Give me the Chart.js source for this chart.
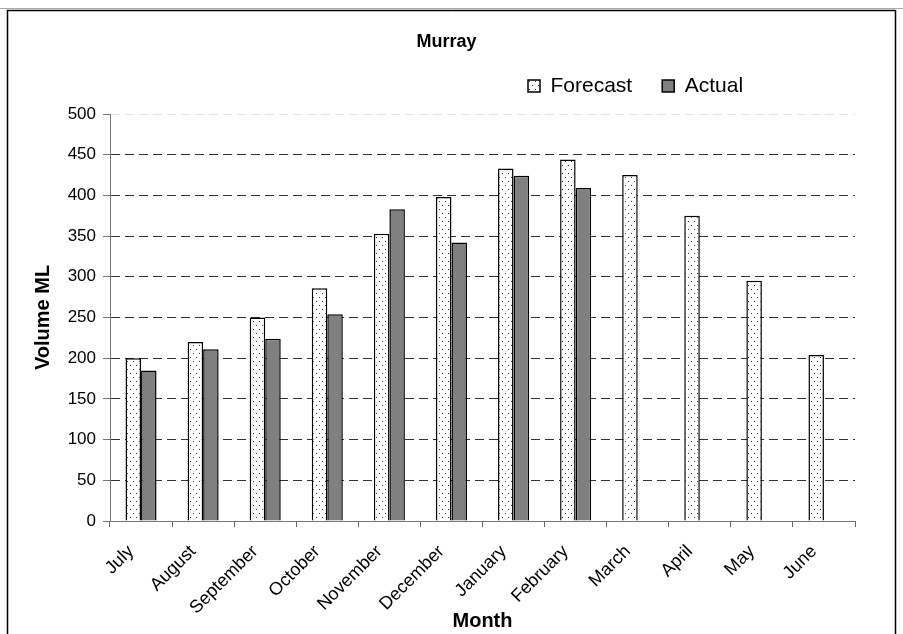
<!DOCTYPE html>
<html>
<head>
<meta charset="utf-8">
<script src="https://cdn.jsdelivr.net/npm/chart.js@4"></script>
<style>
  html, body { margin: 0; padding: 0; background: #fff; }
  #wrap { width: 903px; height: 634px; position: relative; }
</style>
</head>
<body>
<div id="wrap"><canvas id="chart"></canvas></div>
<script>
const months = ['July', 'August', 'September', 'October', 'November', 'December',
                'January', 'February', 'March', 'April', 'May', 'June'];
const forecast = [200, 220, 250, 286, 353, 398, 433, 444, 425, 375, 295, 204];
const actual = [185, 211, 224, 254, 383, 342, 424, 409, null, null, null, null];
const yTicks = [0, 50, 100, 150, 200, 250, 300, 350, 400, 450, 500];

const FONT = "'Liberation Sans', Arial, sans-serif";
const LEGEND_SIZE = 21;
const LEGEND_PAD = 30;

// white with small dots, like the Excel fill
function dotPattern() {
    const c = document.createElement('canvas');
    c.width = 6;
    c.height = 8;
    const g = c.getContext('2d');
    g.fillStyle = '#fff';
    g.fillRect(0, 0, 6, 8);
    g.fillStyle = '#333';
    g.fillRect(1, 1, 1, 1);
    g.fillRect(4, 5, 1, 1);
    return g.createPattern(c, 'repeat');
}

// outer frame of the chart object
const frame = {
    id: 'frame',
    afterDraw(chart) {
        const ctx = chart.ctx;
        ctx.save();
        ctx.strokeStyle = '#aaa';
        ctx.lineWidth = 1;
        ctx.beginPath();
        ctx.moveTo(0, 8.5);
        ctx.lineTo(903, 8.5);
        ctx.stroke();
        ctx.strokeStyle = '#000';
        ctx.lineWidth = 1.5;
        ctx.beginPath();
        ctx.moveTo(7.5, 640);
        ctx.lineTo(7.5, 10.5);
        ctx.lineTo(895.5, 10.5);
        ctx.lineTo(895.5, 640);
        ctx.stroke();
        ctx.restore();
    }
};

// title and legend are not centred over the plot in the original
const placeBlocks = {
    id: 'placeBlocks',
    afterLayout(chart) {
        const t = chart.titleBlock;
        t.left += 19;
        t.right += 19;

        const l = chart.legend;
        const dx = 528 - LEGEND_PAD - l.left;
        const dy = 86 - (l.top + LEGEND_PAD + LEGEND_SIZE / 2);
        l.left += dx;
        l.right += dx;
        l.top += dy;
        l.bottom += dy;
    }
};

const ctx = document.getElementById('chart').getContext('2d');

new Chart(ctx, {
    type: 'bar',
    data: {
        labels: months,
        datasets: [{
            label: 'Forecast',
            data: forecast,
            backgroundColor: dotPattern(),
            borderColor: '#000',
            borderWidth: 1.5
        }, {
            label: 'Actual',
            data: actual,
            backgroundColor: '#808080',
            borderColor: '#000',
            borderWidth: 1.5
        }]
    },
    options: {
        responsive: true,
        maintainAspectRatio: false,
        animation: false,
        layout: { padding: { top: 0, right: 48, bottom: 0, left: 0 } },
        datasets: { bar: { categoryPercentage: 0.5, barPercentage: 1 } },
        plugins: {
            title: {
                display: true,
                text: 'Murray',
                color: '#000',
                font: { family: FONT, size: 18, weight: 'bold' },
                padding: { top: 31.2, bottom: 0.2 }
            },
            legend: {
                display: true,
                align: 'start',
                labels: {
                    color: '#000',
                    font: { family: FONT, size: LEGEND_SIZE },
                    boxWidth: 12,
                    boxHeight: 12,
                    padding: LEGEND_PAD
                }
            },
            tooltip: { enabled: false }
        },
        scales: {
            x: {
                grid: {
                    display: true,
                    drawOnChartArea: false,
                    offset: true,
                    tickLength: 6,
                    color: '#666'
                },
                border: { display: true, color: '#777', width: 1 },
                ticks: {
                    color: '#000',
                    font: { family: FONT, size: 18 },
                    minRotation: 45,
                    maxRotation: 45,
                    autoSkip: false,
                    padding: 14,
                    labelOffset: -10
                },
                title: {
                    display: true,
                    text: 'Month',
                    color: '#000',
                    font: { family: FONT, size: 20, weight: 'bold' },
                    padding: { top: 0, bottom: 1 }
                },
                afterFit(scale) { scale.height = 113; }
            },
            y: {
                min: 0,
                max: 500,
                grid: {
                    color: c => c.tick.value === 500 ? '#e4e4e4' : (c.tick.value === 0 ? 'rgba(0,0,0,0)' : '#333'),
                    tickColor: '#777',
                    tickLength: 7,
                    tickBorderDash: []
                },
                border: { display: true, color: '#777', width: 1, dash: [9, 5] },
                afterBuildTicks(scale) {
                    scale.ticks = yTicks.map(v => ({ value: v }));
                },
                ticks: {
                    color: '#000',
                    font: { family: FONT, size: 17 },
                    padding: 7
                },
                title: {
                    display: true,
                    text: 'Volume ML',
                    color: '#000',
                    font: { family: FONT, size: 20, weight: 'bold' },
                    padding: { top: 31, bottom: 0 }
                },
                afterFit(scale) { scale.width = 110; }
            }
        }
    },
    plugins: [frame, placeBlocks]
});
</script>
</body>
</html>
